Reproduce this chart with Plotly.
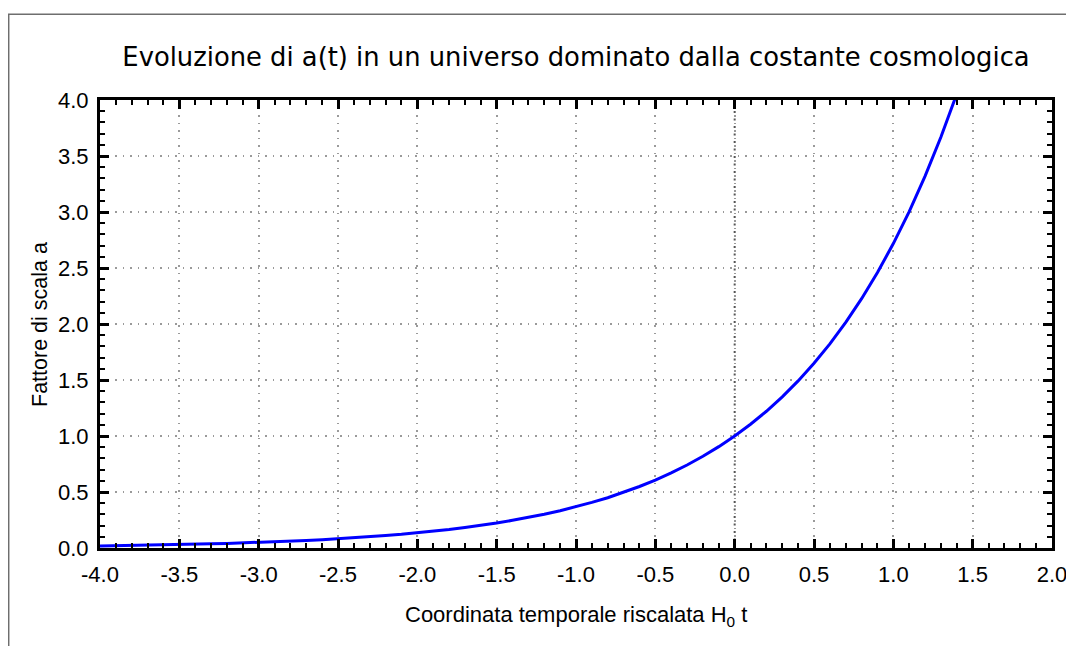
import plotly.graph_objects as go

# Data
t_values = [-4.0, -3.9, -3.8, -3.7, -3.6, -3.5, -3.4, -3.3, -3.2, -3.1,
            -3.0, -2.9, -2.8, -2.7, -2.6, -2.5, -2.4, -2.3, -2.2, -2.1,
            -2.0, -1.9, -1.8, -1.7, -1.6, -1.5, -1.4, -1.3, -1.2, -1.1,
            -1.0, -0.9, -0.8, -0.7, -0.6, -0.5, -0.4, -0.3, -0.2, -0.1,
            0.0, 0.1, 0.2, 0.3, 0.4, 0.5, 0.6, 0.7, 0.8, 0.9,
            1.0, 1.1, 1.2, 1.3, 1.4]
a_values = [0.018, 0.020, 0.022, 0.025, 0.027, 0.030, 0.033, 0.037, 0.041, 0.045,
            0.050, 0.055, 0.061, 0.067, 0.074, 0.082, 0.091, 0.100, 0.111, 0.122,
            0.135, 0.150, 0.165, 0.183, 0.202, 0.223, 0.247, 0.273, 0.301, 0.333,
            0.368, 0.407, 0.449, 0.497, 0.549, 0.607, 0.670, 0.741, 0.819, 0.905,
            1.000, 1.105, 1.221, 1.350, 1.492, 1.649, 1.822, 2.014, 2.226, 2.460,
            2.718, 3.004, 3.320, 3.669, 4.055]

x_tickvals = [-4.0, -3.5, -3.0, -2.5, -2.0, -1.5, -1.0, -0.5, 0.0, 0.5, 1.0, 1.5, 2.0]
x_ticktext = ["-4.0", "-3.5", "-3.0", "-2.5", "-2.0", "-1.5", "-1.0", "-0.5",
              "0.0", "0.5", "1.0", "1.5", "2.0"]
y_tickvals = [0.0, 0.5, 1.0, 1.5, 2.0, 2.5, 3.0, 3.5, 4.0]
y_ticktext = ["0.0", "0.5", "1.0", "1.5", "2.0", "2.5", "3.0", "3.5", "4.0"]

title_text = "Evoluzione di a(t) in un universo dominato dalla costante cosmologica"
x_title = "Coordinata temporale riscalata H<sub>0</sub> t"
y_title = "Fattore di scala a"

LABEL_FONT = dict(family="Liberation Sans, Arial, sans-serif", size=22, color="black")
YTITLE_FONT = dict(family="Liberation Sans, Arial, sans-serif", size=21.5, color="black")

fig = go.Figure()
fig.add_trace(go.Scatter(x=t_values, y=a_values, mode="lines",
                         line=dict(color="#0000ff", width=3), showlegend=False))

axis_common = dict(
    showline=True, linecolor="black", linewidth=3, mirror="allticks",
    ticks="inside", ticklen=9, tickwidth=3, tickcolor="black",
    showgrid=True, gridcolor="#9a9a9a", gridwidth=1.5, griddash="1.5px,6px",
    zeroline=False, tickfont=LABEL_FONT, ticklabeloverflow="allow",
    automargin=False,
)

fig.update_xaxes(range=[-4, 2], tickmode="array", tickvals=x_tickvals, ticktext=x_ticktext,
                 minor=dict(ticks="inside", ticklen=5, tickwidth=2, tickcolor="black",
                            dtick=0.1, tick0=0, showgrid=False),
                 ticklabelstandoff=5, **axis_common)
fig.update_yaxes(range=[0, 4], tickmode="array", tickvals=y_tickvals, ticktext=y_ticktext,
                 minor=dict(ticks="inside", ticklen=5, tickwidth=2, tickcolor="black",
                            dtick=0.1, tick0=0, showgrid=False),
                 ticklabelstandoff=4, **axis_common)

# darker dotted line at t = 0
fig.add_shape(type="line", xref="x", yref="paper", x0=0, x1=0, y0=0, y1=1,
              line=dict(color="#555555", width=2, dash="2px,5.5px"), layer="below")

# outer frame (top and left edges)
fig.add_shape(type="line", xref="paper", yref="paper", x0=-92/952, x1=1.1,
              y0=1 + 85.8/448, y1=1 + 85.8/448, line=dict(color="#6e6e6e", width=1.5))
fig.add_shape(type="line", xref="paper", yref="paper", x0=-91.3/952, x1=-91.3/952,
              y0=-0.3, y1=1 + 85.8/448, line=dict(color="#6e6e6e", width=1.5))

fig.add_annotation(text=x_title, xref="paper", yref="paper", x=0.5, y=-68/448,
                   showarrow=False, xanchor="center", yanchor="middle", font=LABEL_FONT)
fig.add_annotation(text=y_title, xref="paper", yref="paper", x=-60/952, y=0.5 - 1/448,
                   showarrow=False, xanchor="center", yanchor="middle", textangle=-90,
                   font=YTITLE_FONT)

fig.update_layout(
    width=1058, height=638,
    margin=dict(l=92, r=14, t=92, b=98, autoexpand=False),
    plot_bgcolor="white", paper_bgcolor="white",
    title=dict(text=title_text, x=0.5, xref="paper", xanchor="center",
               y=1 - 49/638, yref="container", yanchor="middle",
               font=dict(family="DejaVu Sans, sans-serif", size=25.8, color="black")),
)

fig.write_html("out.html")
